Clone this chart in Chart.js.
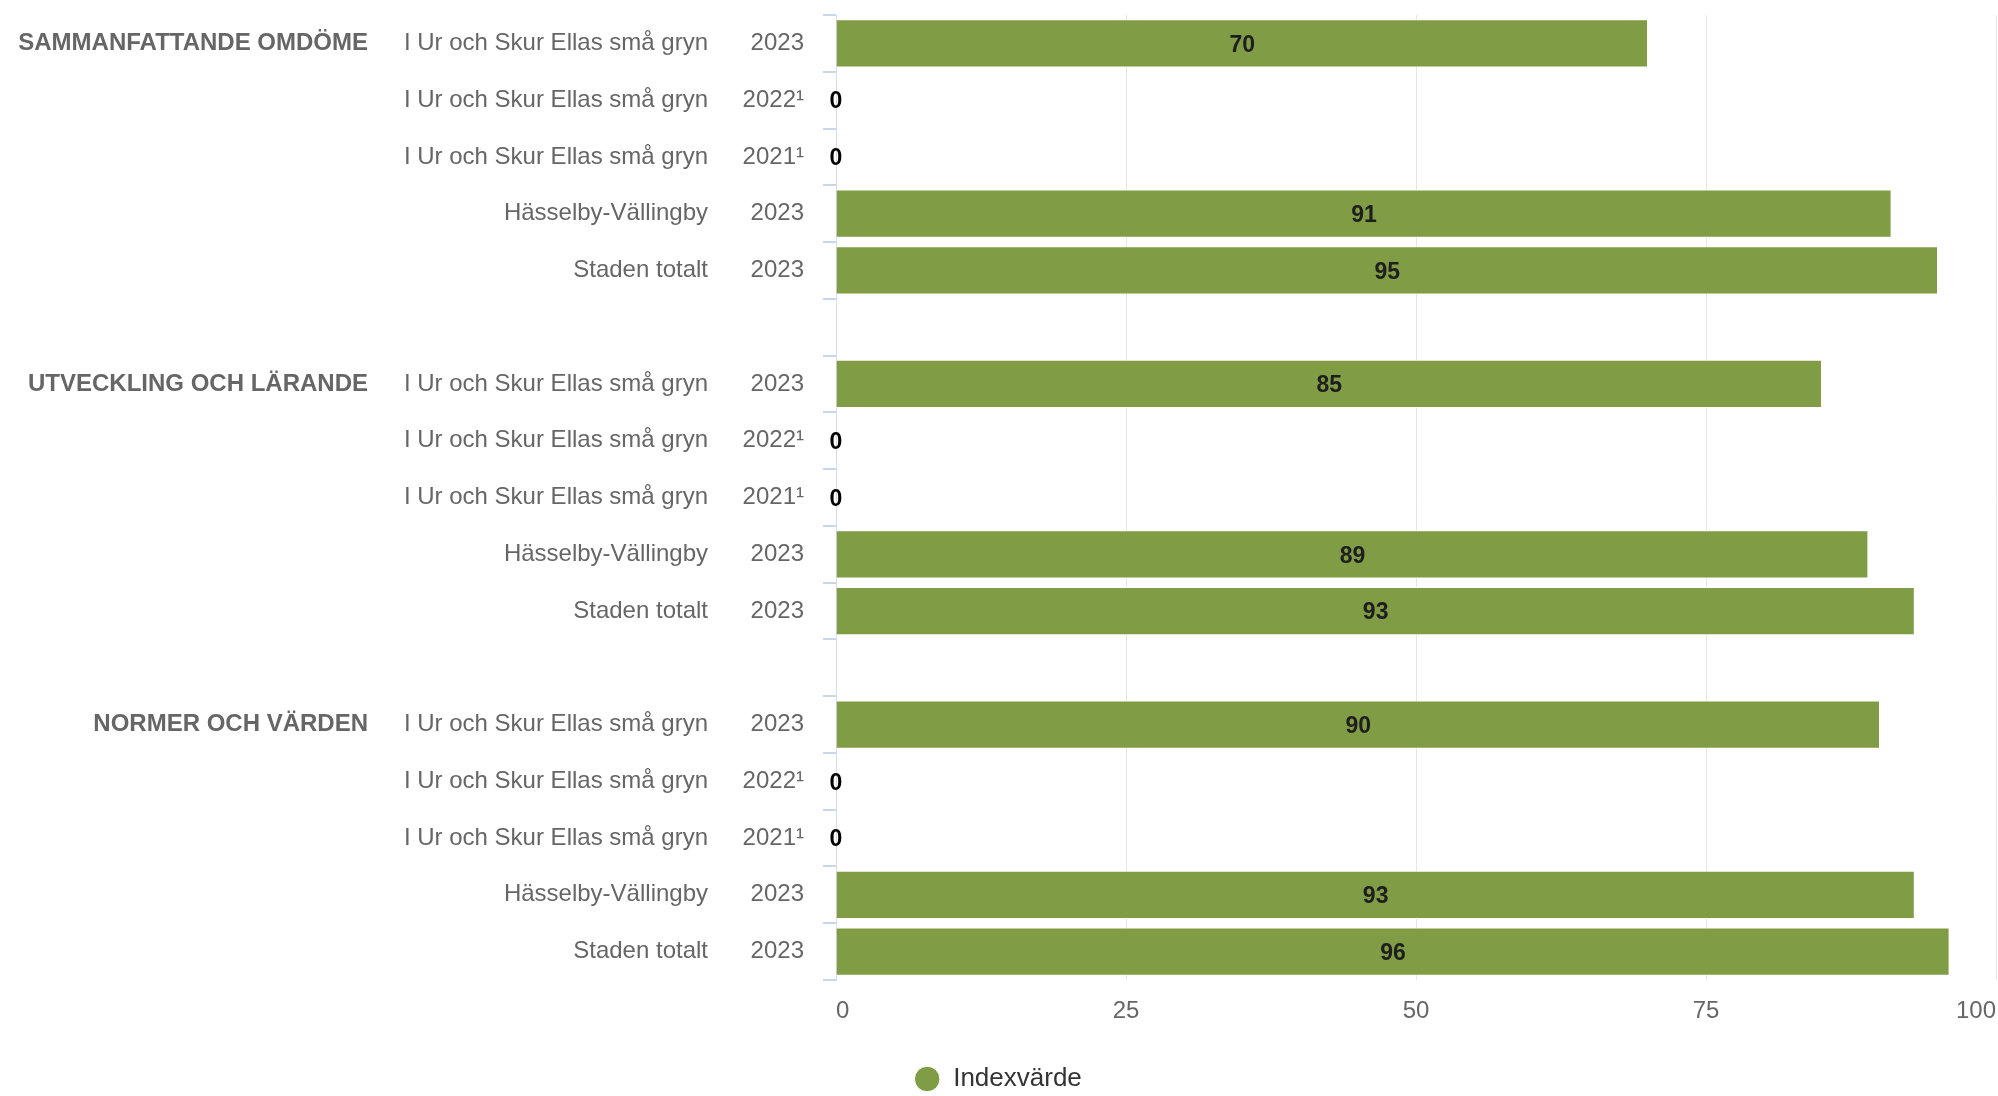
<!DOCTYPE html>
<html>
<head>
<meta charset="utf-8">
<script src="https://cdn.jsdelivr.net/npm/chart.js@4.4.1/dist/chart.umd.min.js"></script>
<style>
  html, body { margin:0; padding:0; background:#fff; }
  #wrap { width:1998px; height:1096px; position:relative; }
</style>
</head>
<body>
<div id="wrap"><canvas id="chart"></canvas></div>
<script>
const GROUPS = ['SAMMANFATTANDE OMDÖME', 'UTVECKLING OCH LÄRANDE', 'NORMER OCH VÄRDEN'];
const UNITS = ['I Ur och Skur Ellas små gryn', 'I Ur och Skur Ellas små gryn', 'I Ur och Skur Ellas små gryn', 'Hässelby-Vällingby', 'Staden totalt'];
const YEARS = ['2023', '2022¹', '2021¹', '2023', '2023'];
const VALUES_SAMMANFATTANDE = [70, 0, 0, 91, 95];
const VALUES_UTVECKLING = [85, 0, 0, 89, 93];
const VALUES_NORMER = [90, 0, 0, 93, 96];
const X_TICKS = [0, 25, 50, 75, 100];
const SERIES_NAME = 'Indexvärde';

const GREEN = '#809c44';
const FONT = "'Liberation Sans', Arial, sans-serif";

// build rows: each group + one empty row between groups
const groupValues = [VALUES_SAMMANFATTANDE, VALUES_UTVECKLING, VALUES_NORMER];
const rowYear = [], rowUnit = [], rowGroup = [], rowData = [];
groupValues.forEach((vals, g) => {
  if(g > 0){ rowYear.push(''); rowUnit.push(''); rowGroup.push(''); rowData.push(null); }
  vals.forEach((v, i) => {
    rowYear.push(YEARS[i]);
    rowUnit.push(UNITS[i]);
    rowGroup.push(i === 0 ? GROUPS[g] : '');
    rowData.push(v);
  });
});

const rowLabels = {
  id: 'rowLabels',
  afterDraw(chart){
    const ctx = chart.ctx, ys = chart.scales.y;
    ctx.save();
    ctx.textBaseline = 'middle';
    ctx.textAlign = 'right';
    ctx.fillStyle = '#666666';
    rowUnit.forEach((u, i) => {
      if(!u) return;
      const y = ys.getPixelForValue(i);
      ctx.font = '24px ' + FONT;
      ctx.fillText(u, 708, y);
      if(rowGroup[i]){
        ctx.font = 'bold 24px ' + FONT;
        ctx.fillText(rowGroup[i], 368, y);
      }
    });
    ctx.restore();
  }
};

const barValues = {
  id: 'barValues',
  afterDatasetsDraw(chart){
    const ctx = chart.ctx;
    const meta = chart.getDatasetMeta(0);
    ctx.save();
    ctx.font = 'bold 23px ' + FONT;
    ctx.textAlign = 'center';
    ctx.textBaseline = 'middle';
    meta.data.forEach((bar, i) => {
      const v = rowData[i];
      if(v === null) return;
      const x = v === 0 ? bar.base : (bar.x + bar.base) / 2;
      ctx.fillStyle = v === 0 ? '#000' : '#1e1e1e';
      ctx.fillText(String(v), x, bar.y + 2);
    });
    ctx.restore();
  }
};

new Chart(document.getElementById('chart'), {
  type: 'bar',
  data: {
    labels: rowYear,
    datasets: [{
      label: SERIES_NAME,
      data: rowData,
      backgroundColor: GREEN,
      borderColor: '#ffffff',
      borderWidth: 1,
      categoryPercentage: 1,
      barPercentage: 0.85
    }]
  },
  options: {
    indexAxis: 'y',
    responsive: true,
    maintainAspectRatio: false,
    devicePixelRatio: 1,
    animation: false,
    layout: { padding: { top: 15, right: 2, left: 0, bottom: -6 } },
    scales: {
      x: {
        min: 0, max: 100,
        afterBuildTicks(s){ s.ticks = X_TICKS.map(v => ({ value: v })); },
        ticks: { color: '#666666', font: { size: 24, family: FONT }, padding: 17, align: 'inner' },
        grid: { color: '#e6e6e6', drawTicks: false },
        border: { display: false },
        afterFit(s){ s.paddingRight = 0; s.paddingLeft = 0; s.height = 84; }
      },
      y: {
        ticks: { color: '#666666', font: { size: 24, family: FONT }, padding: 19, autoSkip: false },
        grid: { drawOnChartArea: false, drawTicks: true, tickLength: 13, color: '#ccd6eb', lineWidth: 2, offset: true },
        border: { color: '#d6dce8', width: 1 },
        afterFit(s){ s.width = 836; s.paddingTop = 0; s.paddingBottom = 0; }
      }
    },
    plugins: {
      tooltip: { enabled: false },
      legend: {
        position: 'bottom',
        labels: {
          usePointStyle: true, pointStyle: 'circle',
          boxWidth: 26, boxHeight: 18,
          color: '#333333',
          font: { size: 26, family: FONT },
          padding: 2
        }
      }
    }
  },
  plugins: [rowLabels, barValues]
});
</script>
</body>
</html>
